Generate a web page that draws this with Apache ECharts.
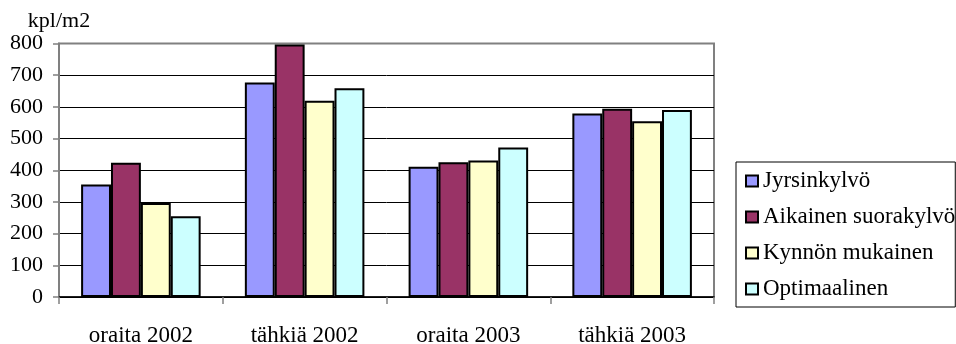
<!DOCTYPE html>
<html>
<head>
<meta charset="utf-8">
<script src="https://cdn.jsdelivr.net/npm/echarts@6/dist/echarts.min.js"></script>
<style>html,body{margin:0;padding:0;background:#fff}#c{width:956px;height:344px}</style>
</head>
<body>
<div id="c"></div>
<script>
const categories = ['oraita 2002', 'tähkiä 2002', 'oraita 2003', 'tähkiä 2003'];
const seriesNames = ['Jyrsinkylvö', 'Aikainen suorakylvö', 'Kynnön mukainen', 'Optimaalinen'];
const jyrsinkylvo = [355, 677, 411, 579];
const aikainenSuorakylvo = [424, 797, 425, 594];
const kynnonMukainen = [297, 619, 431, 555];
const optimaalinen = [255, 659, 472, 590];
const yTicks = [0, 100, 200, 300, 400, 500, 600, 700, 800];
const colors = ['#9999FF', '#993366', '#FFFFCC', '#CCFFFF'];

const values = [jyrsinkylvo, aikainenSuorakylvo, kynnonMukainen, optimaalinen];
const FONT = '"Liberation Serif", "Times New Roman", serif';

const chart = echarts.init(document.getElementById('c'), null, {renderer: 'canvas'});
chart.setOption({
  animation: false,
  backgroundColor: '#fff',
  textStyle: {fontFamily: FONT, color: '#000'},
  grid: {left: 59, right: 242, top: 43.5, bottom: 47, outerBoundsMode: 'none', containLabel: false,
         show: true, borderColor: '#808080', borderWidth: 2, backgroundColor: 'transparent'},
  legend: {
    orient: 'vertical',
    left: 736, top: 162,
    padding: [7, 0, 6, 9],
    itemGap: 12,
    itemWidth: 12, itemHeight: 11,
    icon: 'rect',
    borderColor: '#000', borderWidth: 1,
    textStyle: {fontFamily: FONT, fontSize: 23, lineHeight: 24, color: '#000'},
    data: seriesNames
  },
  xAxis: {
    type: 'category',
    data: categories,
    axisLine: {lineStyle: {color: '#000', width: 1.5}},
    axisTick: {show: true, length: 7, lineStyle: {color: '#808080', width: 1.5}},
    axisLabel: {fontFamily: FONT, fontSize: 23, color: '#000', margin: 27}
  },
  yAxis: {
    type: 'value',
    min: yTicks[0], max: yTicks[yTicks.length - 1], interval: 100,
    name: 'kpl/m2',
    nameGap: 6,
    nameTextStyle: {fontFamily: FONT, fontSize: 22, color: '#000'},
    axisLine: {show: true, lineStyle: {color: '#808080', width: 2}},
    axisTick: {show: true, length: 6, lineStyle: {color: '#808080', width: 1.5}},
    axisLabel: {fontFamily: FONT, fontSize: 22, color: '#000', margin: 16},
    splitLine: {show: true, lineStyle: {color: ['#000', '#000', '#000', '#000', '#000', '#000', '#000', '#000', '#808080'], width: 1}}
  },
  series: seriesNames.map((n, i) => ({
    name: n,
    type: 'bar',
    data: values[i],
    barGap: '0%',
    barCategoryGap: '27%',
    itemStyle: {color: colors[i], borderColor: '#000', borderWidth: 2}
  }))
});
</script>
</body>
</html>
